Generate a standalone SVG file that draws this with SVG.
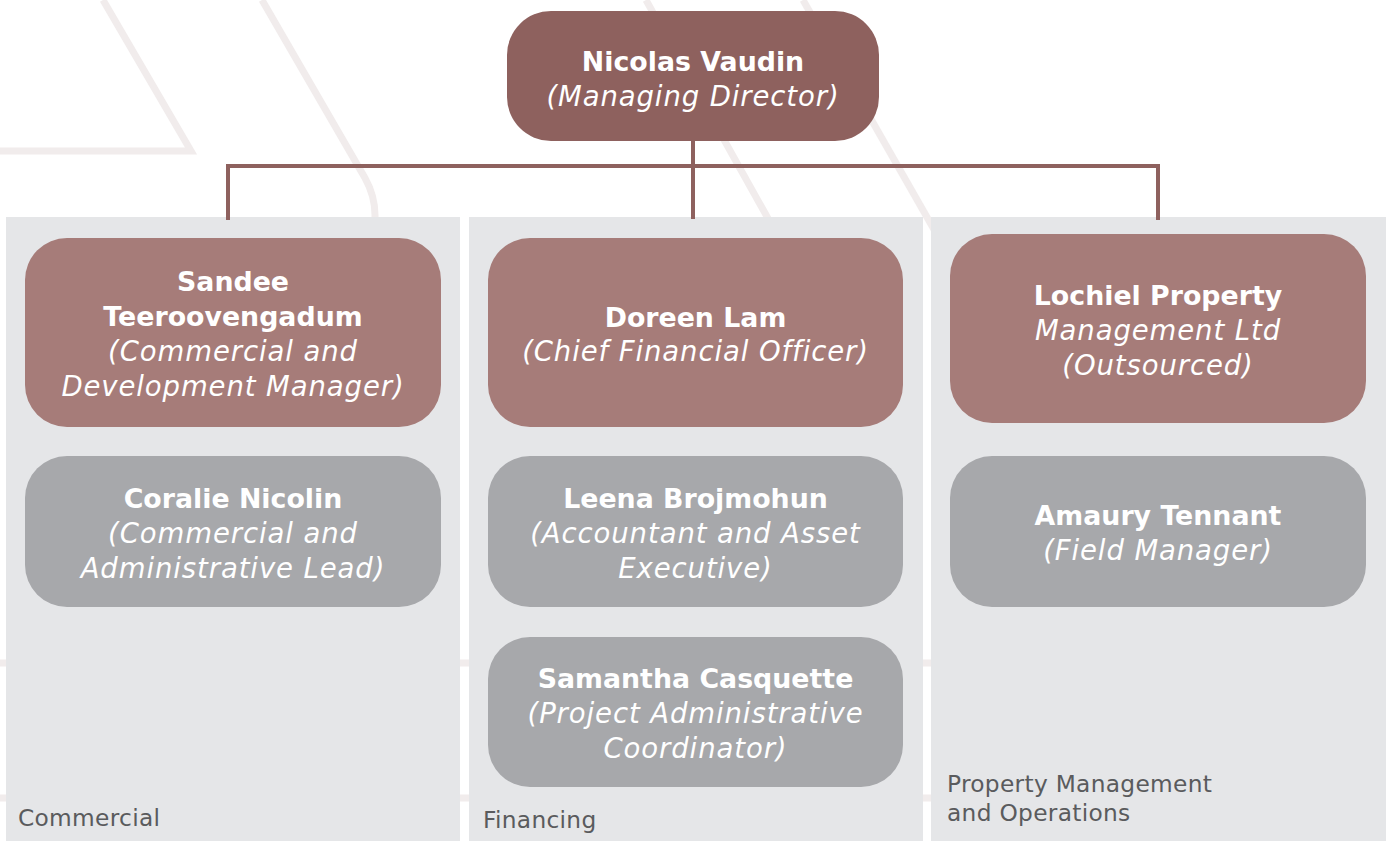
<svg xmlns="http://www.w3.org/2000/svg" width="1386" height="841" viewBox="0 0 1386 841">
  <defs>
    <style>
      .bg-line { fill: none; stroke: #f1ecec; stroke-width: 7; stroke-linejoin: miter; }
      .panel { fill: #e5e6e8; }
      .link { fill: none; stroke: #8e615e; stroke-width: 4; }
      .top { fill: #8e615e; }
      .lead { fill: #a67c79; }
      .staff { fill: #a7a8ab; }
      .name { font-family: "DejaVu Sans", "Liberation Sans", sans-serif; font-weight: bold; font-size: 26.8px; fill: #ffffff; text-anchor: middle; }
      .role { font-family: "DejaVu Sans", "Liberation Sans", sans-serif; font-style: italic; font-weight: normal; font-size: 27.5px; letter-spacing: 0.9px; fill: #ffffff; text-anchor: middle; }
      .dept { font-family: "DejaVu Sans", "Liberation Sans", sans-serif; font-size: 23.3px; letter-spacing: 0.3px; fill: #5a5b5d; }
    </style>
  </defs>

  <rect width="1386" height="841" fill="#ffffff"/>

  <!-- decorative background strokes -->
  <g id="background">
    <path class="bg-line" d="M0,151 L191,151 L103,0"/>
    <path class="bg-line" d="M262,0 L365,178 Q375,196 375,215 L375,240"/>
    <path class="bg-line" d="M646,0 L780,240"/>
    <path class="bg-line" d="M803,0 L940,240"/>
    <path class="bg-line" d="M0,663 L1386,663"/>
    <path class="bg-line" d="M0,798 L1386,798"/>
  </g>

  <!-- department panels -->
  <g id="panel-commercial">
    <rect class="panel" x="6" y="217" width="454" height="624"/>
    <text class="dept" x="18" y="826">Commercial</text>
  </g>
  <g id="panel-financing">
    <rect class="panel" x="469" y="217" width="454" height="624"/>
    <text class="dept" x="483" y="828">Financing</text>
  </g>
  <g id="panel-operations">
    <rect class="panel" x="931" y="217" width="455" height="624"/>
    <text class="dept" x="947" y="792">Property Management</text>
    <text class="dept" x="947" y="821">and Operations</text>
  </g>

  <!-- reporting lines -->
  <g id="connectors">
    <path class="link" d="M693,141 L693,219"/>
    <path class="link" d="M228,220 L228,166 L1158,166 L1158,220"/>
  </g>

  <g id="node-nicolas">
    <rect class="top" x="507" y="11" width="372" height="130" rx="44"/>
    <text class="name" x="693" y="71">Nicolas Vaudin</text>
    <text class="role" x="693" y="106">(Managing Director)</text>
  </g>

  <g id="node-sandee">
    <rect class="lead" x="25" y="238" width="416" height="189" rx="42"/>
    <text class="name" x="233" y="291">Sandee</text>
    <text class="name" x="233" y="326">Teeroovengadum</text>
    <text class="role" x="233" y="361">(Commercial and</text>
    <text class="role" x="233" y="396">Development Manager)</text>
  </g>

  <g id="node-coralie">
    <rect class="staff" x="25" y="456" width="416" height="151" rx="42"/>
    <text class="name" x="233" y="508">Coralie Nicolin</text>
    <text class="role" x="233" y="543">(Commercial and</text>
    <text class="role" x="233" y="578">Administrative Lead)</text>
  </g>

  <g id="node-doreen">
    <rect class="lead" x="488" y="238" width="415" height="189" rx="42"/>
    <text class="name" x="695.5" y="327">Doreen Lam</text>
    <text class="role" x="695.5" y="361">(Chief Financial Officer)</text>
  </g>

  <g id="node-leena">
    <rect class="staff" x="488" y="456" width="415" height="151" rx="42"/>
    <text class="name" x="695.5" y="508">Leena Brojmohun</text>
    <text class="role" x="695.5" y="543">(Accountant and Asset</text>
    <text class="role" x="695.5" y="578">Executive)</text>
  </g>

  <g id="node-samantha">
    <rect class="staff" x="488" y="637" width="415" height="150" rx="42"/>
    <text class="name" x="695.5" y="688">Samantha Casquette</text>
    <text class="role" x="695.5" y="723">(Project Administrative</text>
    <text class="role" x="695.5" y="758">Coordinator)</text>
  </g>

  <g id="node-lochiel">
    <rect class="lead" x="950" y="234" width="416" height="189" rx="42"/>
    <text class="name" x="1158" y="305">Lochiel Property</text>
    <text class="role" x="1158" y="340">Management Ltd</text>
    <text class="role" x="1158" y="375">(Outsourced)</text>
  </g>

  <g id="node-amaury">
    <rect class="staff" x="950" y="456" width="416" height="151" rx="42"/>
    <text class="name" x="1158" y="525">Amaury Tennant</text>
    <text class="role" x="1158" y="560">(Field Manager)</text>
  </g>
</svg>
